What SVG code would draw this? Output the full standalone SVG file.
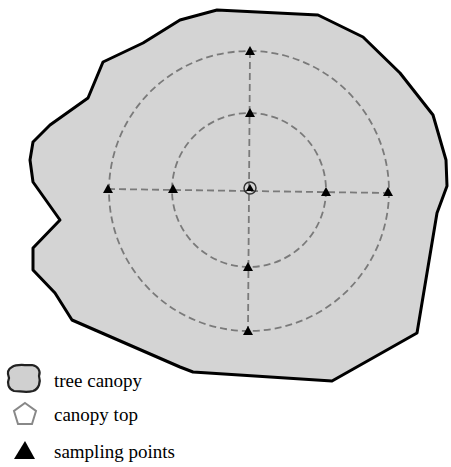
<svg xmlns="http://www.w3.org/2000/svg" width="451" height="467" viewBox="0 0 451 467">
<defs>
<style>
.canopy{fill:#d4d4d4;stroke:#000;stroke-width:3;stroke-linejoin:round}
.dash{fill:none;stroke:#7a7a7a;stroke-width:1.8;stroke-dasharray:7 4}
.tri{fill:#000}
.lbl{font-family:"Liberation Serif","Times New Roman",serif;font-size:19px;fill:#000}
</style>
<path id="t" d="M0,-5 L5,4 L-5,4 Z"/>
</defs>
<rect width="451" height="467" fill="#fff"/>
<g id="canopy">
<polygon class="canopy" points="217,10 318,15 363,37 400,73 433,115 446,160 447,186 437,213 417,333 332,381 193,372 180,367 72,320 55,293 33,270 33,248 60,220 33,182 30,160 33,142 50,125 88,98 103,62 143,43 180,20"/>
</g>
<g id="connectors">
<circle class="dash" cx="249" cy="191" r="140"/>
<circle class="dash" cx="249" cy="190" r="77"/>
<line class="dash" x1="108" y1="189" x2="388" y2="193"/>
<line class="dash" x1="250" y1="51" x2="248" y2="331"/>
</g>
<g id="points">
<use href="#t" class="tri" x="250" y="51"/>
<use href="#t" class="tri" x="250" y="113"/>
<use href="#t" class="tri" x="108" y="189"/>
<use href="#t" class="tri" x="173" y="189"/>
<use href="#t" class="tri" x="326" y="192"/>
<use href="#t" class="tri" x="388" y="192"/>
<use href="#t" class="tri" x="248" y="267"/>
<use href="#t" class="tri" x="248" y="331"/>
</g>
<g id="center">
<circle cx="250" cy="188" r="6" fill="none" stroke="#333" stroke-width="1.5"/>
<path d="M250,184 L254,191 L246,191 Z" fill="#000"/>
</g>
<g id="legend">
<path d="M12,367 C18,363 26,366 32,365 C38,366 41,371 39,376 C41,382 39,389 33,391 C26,393 20,391 14,391 C8,389 7,383 9,378 C7,373 8,369 12,367 Z" fill="#d0d0d0" stroke="#222" stroke-width="2.2"/>
<polygon points="25,403 36,411 32,424 18,424 14,411" fill="#fff" stroke="#888" stroke-width="2"/>
<polygon points="25,441 35,459 14,459" fill="#000"/>
<text class="lbl" x="54" y="387">tree canopy</text>
<text class="lbl" x="54" y="421">canopy top</text>
<text class="lbl" x="54" y="458">sampling points</text>
</g>
</svg>
